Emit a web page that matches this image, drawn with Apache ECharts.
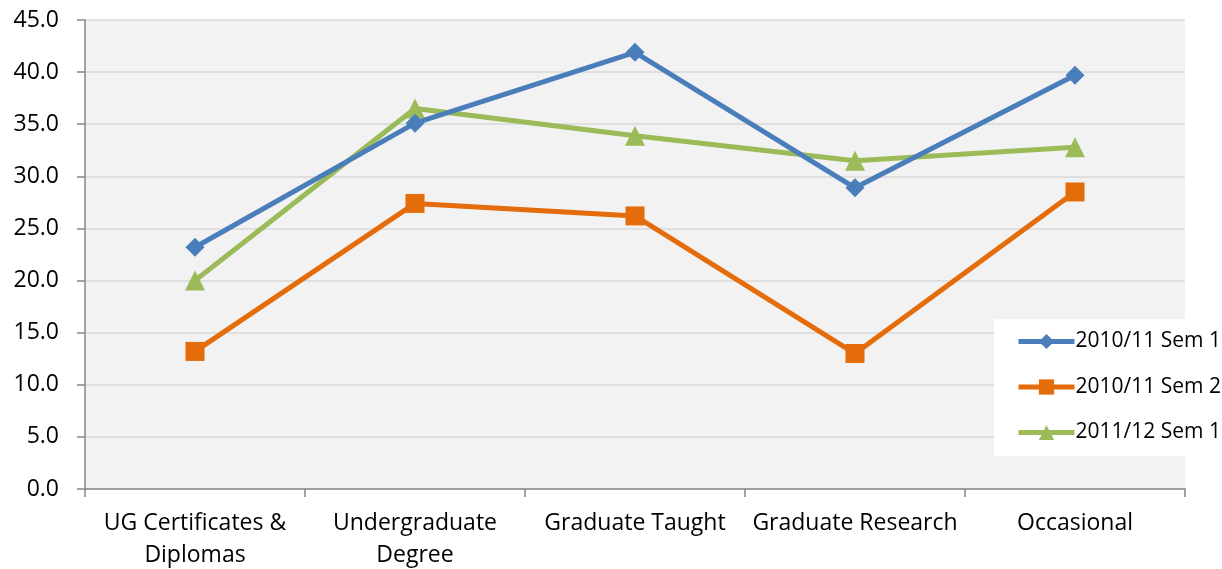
<!DOCTYPE html>
<html><head><meta charset="utf-8">
<script src="https://cdn.jsdelivr.net/npm/echarts@6/dist/echarts.min.js"></script>
<style>html,body{margin:0;padding:0;background:#fff}#c{width:1222px;height:569px}</style>
</head><body><div id="c"></div>
<script>
const categories = ["UG Certificates &\nDiplomas", "Undergraduate\nDegree", "Graduate Taught", "Graduate Research", "Occasional"];
const seriesNames = ["2010/11 Sem 1", "2010/11 Sem 2", "2011/12 Sem 1"];
const sem1_1011 = [23.2, 35.1, 41.9, 28.9, 39.7];
const sem2_1011 = [13.2, 27.4, 26.2, 13.0, 28.5];
const sem1_1112 = [20.0, 36.5, 33.9, 31.5, 32.8];
const yTicks = {min: 0, max: 45, interval: 5};

const font = "'Open Sans', Lato, sans-serif";
const colors = ["#4a7ebb", "#e46c0a", "#9bbb59"];
const symbols = ["diamond", "rect", "triangle"];
const sizes = [19, 19, 20];
const data = [sem1_1011, sem2_1011, sem1_1112];

const chart = echarts.init(document.getElementById('c'), null, {renderer: 'canvas'});
chart.setOption({
  animation: false,
  backgroundColor: '#fff',
  grid: {left: 85, right: 37, top: 20, bottom: 80, show: true, backgroundColor: '#f2f2f2', borderWidth: 0, outerBoundsMode: 'none', containLabel: false},
  legend: {
    orient: 'vertical', left: 994, top: 319,
    backgroundColor: '#fff', padding: [12, 20, 13, 22],
    itemWidth: 56, itemHeight: 19, itemGap: 24.5,
    lineStyle: {width: 5},
    textStyle: {fontFamily: font, fontSize: 21, color: '#000', padding: [0, 0, 0, -4]},
    data: seriesNames
  },
  xAxis: {
    type: 'category', data: categories, boundaryGap: true,
    axisLine: {lineStyle: {color: '#868686', width: 1.5}},
    axisTick: {show: true, length: 8, lineStyle: {color: '#868686', width: 1.5}},
    axisLabel: {fontFamily: font, fontSize: 23, color: '#000', margin: 18, lineHeight: 32, interval: 0},
    splitLine: {show: false}
  },
  yAxis: {
    type: 'value', min: yTicks.min, max: yTicks.max, interval: yTicks.interval,
    axisLine: {show: true, lineStyle: {color: '#868686', width: 1.5}},
    axisTick: {show: true, length: 8, lineStyle: {color: '#868686', width: 1.5}},
    axisLabel: {fontFamily: font, fontSize: 23, color: '#000', margin: 26, formatter: v => v.toFixed(1)},
    splitLine: {show: true, lineStyle: {color: '#d9d9d9', width: 1.5}}
  },
  series: seriesNames.map((n, i) => ({
    name: n, type: 'line', data: data[i],
    symbol: symbols[i], symbolSize: sizes[i], showAllSymbol: true,
    lineStyle: {color: colors[i], width: 5},
    itemStyle: {color: colors[i]},
    z: 3 - i
  }))
});
</script></body></html>
